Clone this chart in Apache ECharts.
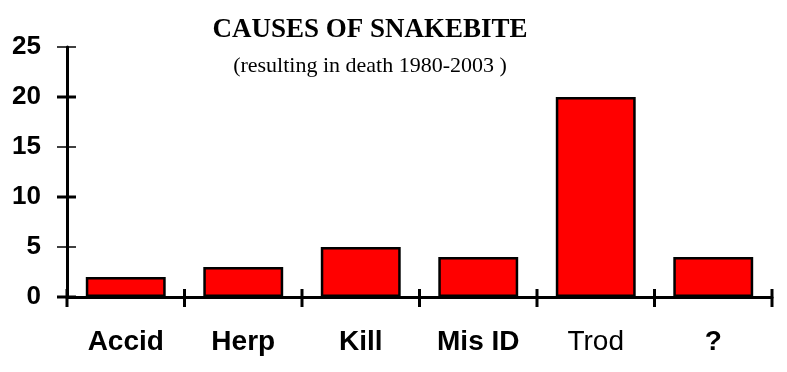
<!DOCTYPE html>
<html>
<head>
<meta charset="utf-8">
<script src="https://cdn.jsdelivr.net/npm/echarts@6/dist/echarts.min.js"></script>
<style>html,body{margin:0;padding:0;background:#fff;}#c{width:787px;height:372px;}</style>
</head>
<body>
<div id="c"></div>
<script>
const categories = ['Accid', 'Herp', 'Kill', 'Mis ID', 'Trod', '?'];
const deaths = [2, 3, 5, 4, 20, 4];
const yTicks = [0, 5, 10, 15, 20, 25];

const chart = echarts.init(document.getElementById('c'), null, {renderer: 'canvas'});
const axisLine = {show: true, lineStyle: {color: '#000', width: 3}};
const yMin = yTicks[0], yMax = yTicks[yTicks.length - 1], yStep = yTicks[1] - yTicks[0];

chart.setOption({
  animation: false,
  backgroundColor: '#fff',
  title: [{
    text: 'CAUSES OF SNAKEBITE',
    left: 365, top: 12, textAlign: 'center',
    textStyle: {fontFamily: 'Liberation Serif', fontWeight: 'bold', fontSize: 27, color: '#000'}
  }, {
    text: '(resulting in death 1980-2003 )',
    left: 365, top: 50, textAlign: 'center',
    textStyle: {fontFamily: 'Liberation Serif', fontWeight: 'normal', fontSize: 22, color: '#000'}
  }],
  grid: {left: 67, right: 15, top: 47, bottom: 75, containLabel: false},
  xAxis: {
    type: 'category', data: categories, position: 'bottom',
    axisLine: axisLine,
    axisTick: {show: false},
    axisLabel: {
      margin: 31, color: '#000',
      formatter: function (v) { return v === 'Trod' ? '{r|' + v + '}' : '{b|' + v + '}'; },
      rich: {
        b: {fontFamily: 'Liberation Sans', fontWeight: 'bold', fontSize: 28, color: '#000'},
        r: {fontFamily: 'Liberation Sans', fontWeight: 'normal', fontSize: 28, color: '#000'}
      }
    }
  },
  yAxis: {
    type: 'value', min: yMin, max: yMax, interval: yStep, position: 'left',
    axisLine: axisLine,
    axisTick: {show: false},
    splitLine: {show: false},
    axisLabel: {margin: 26, color: '#000', fontFamily: 'Liberation Sans', fontWeight: 'bold', fontSize: 26}
  },
  series: [{
    type: 'bar', data: deaths,
    barWidth: '68%',
    itemStyle: {color: '#ff0000', borderColor: '#000', borderWidth: 2.5}
  }]
});

// Crossing tick marks, placed from the library's own layout of the axes
const rect = chart.getModel().getComponent('grid', 0).coordinateSystem.getRect();
const ticks = [];
yTicks.forEach(function (v) {
  const y = chart.convertToPixel({yAxisIndex: 0}, v);
  ticks.push({
    type: 'line', silent: true, z: 10,
    shape: {x1: rect.x - 10, y1: y, x2: rect.x + 9, y2: y},
    style: {stroke: '#000', lineWidth: (v % 10 === 0) ? 3 : 1.5}
  });
});
for (let i = 0; i <= categories.length; i++) {
  const x = rect.x + rect.width * i / categories.length;
  const yb = rect.y + rect.height;
  ticks.push({
    type: 'line', silent: true, z: 10,
    shape: {x1: x, y1: yb - 8, x2: x, y2: yb + 10},
    style: {stroke: '#000', lineWidth: 3}
  });
}
chart.setOption({graphic: ticks});
</script>
</body>
</html>
